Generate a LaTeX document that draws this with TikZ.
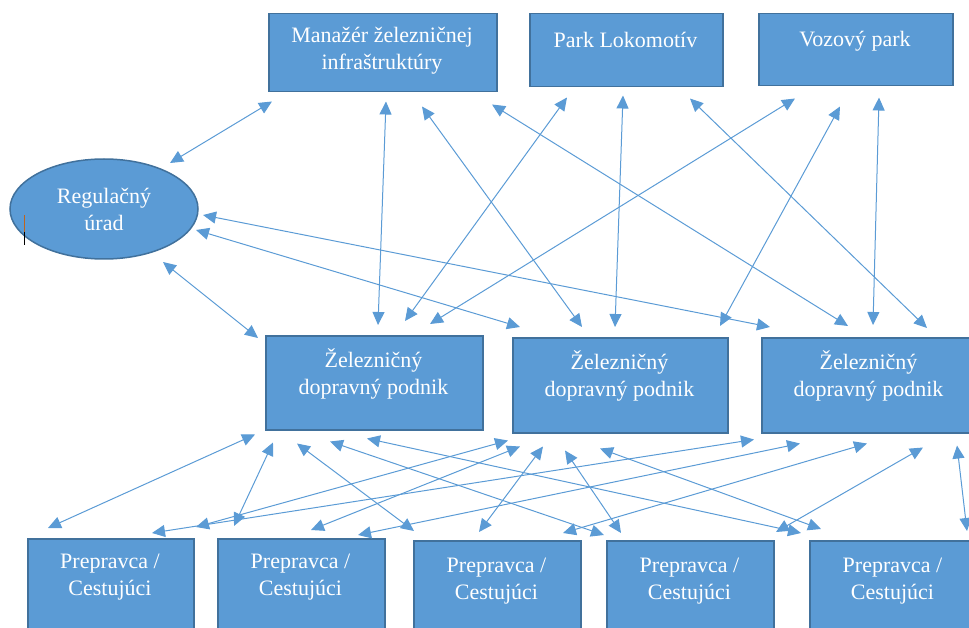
\documentclass[tikz,border=0pt]{standalone}
\usepackage{fontspec}
\setmainfont{Liberation Serif}
\usetikzlibrary{arrows.meta,shapes.geometric}
\definecolor{boxfill}{RGB}{91,155,213}
\definecolor{boxline}{RGB}{65,113,156}
\begin{document}
\begin{tikzpicture}[x=1pt,y=-1pt,
  box/.style={draw=boxline, line width=1.5pt, fill=boxfill, anchor=north west, inner sep=0pt},
  lbl/.style={text=white, anchor=base, inner sep=0pt, font=\fontsize{22}{27}\selectfont},
  arr/.style={draw=boxfill, line width=1pt, {Triangle[length=13pt,width=12pt]}-{Triangle[length=13pt,width=12pt]}}]
\useasboundingbox (0,0) rectangle (969,628);
% top row
\node[box, minimum width=228pt, minimum height=78pt] (m) at (268,13) {};
\node[box, minimum width=193pt, minimum height=73pt] (pl) at (529,13) {};
\node[box, minimum width=194pt, minimum height=72pt] (vp) at (758,13) {};
% regulator
\node[draw=boxline, line width=1.5pt, fill=boxfill, ellipse, minimum width=188pt, minimum height=100pt, inner sep=0pt] (r) at (104,209) {};
% middle row
\node[box, minimum width=217pt, minimum height=94pt] (z1) at (265,335) {};
\node[box, minimum width=215pt, minimum height=95pt] (z2) at (512,337) {};
\node[box, minimum width=215pt, minimum height=95pt] (z3) at (761,337) {};
% bottom row
\node[box, minimum width=166pt, minimum height=100pt] (p1) at (27,538) {};
\node[box, minimum width=167pt, minimum height=100pt] (p2) at (217,538) {};
\node[box, minimum width=167pt, minimum height=100pt] (p3) at (413,540) {};
\node[box, minimum width=167pt, minimum height=100pt] (p4) at (606,540) {};
\node[box, minimum width=167pt, minimum height=100pt] (p5) at (809,540) {};
% labels
\node[lbl] (mt) at (382,43) {\begin{tabular}[t]{@{}c@{}}Manažér železničnej\\infraštruktúry\end{tabular}};
\node[lbl] (plt) at (625.5,48) {Park Lokomotív};
\node[lbl] (vpt) at (855,47) {Vozový park};
\node[lbl] (rt) at (104,204) {\begin{tabular}[t]{@{}c@{}}Regulačný\\úrad\end{tabular}};
\node[lbl] (z1t) at (373.5,367) {\begin{tabular}[t]{@{}c@{}}Železničný\\dopravný podnik\end{tabular}};
\node[lbl] (z2t) at (619.5,369) {\begin{tabular}[t]{@{}c@{}}Železničný\\dopravný podnik\end{tabular}};
\node[lbl] (z3t) at (868.5,369) {\begin{tabular}[t]{@{}c@{}}Železničný\\dopravný podnik\end{tabular}};
\node[lbl] (p1t) at (110,568) {\begin{tabular}[t]{@{}c@{}}Prepravca /\\Cestujúci\end{tabular}};
\node[lbl] (p2t) at (300.5,568) {\begin{tabular}[t]{@{}c@{}}Prepravca /\\Cestujúci\end{tabular}};
\node[lbl] (p3t) at (496.5,572) {\begin{tabular}[t]{@{}c@{}}Prepravca /\\Cestujúci\end{tabular}};
\node[lbl] (p4t) at (689.5,572) {\begin{tabular}[t]{@{}c@{}}Prepravca /\\Cestujúci\end{tabular}};
\node[lbl] (p5t) at (892.5,572) {\begin{tabular}[t]{@{}c@{}}Prepravca /\\Cestujúci\end{tabular}};
% text cursor mark
\draw[color={rgb,255:red,190;green,100;blue,30}, line width=0.8pt] (24,215) -- (24,232);
\draw[black, line width=0.8pt] (24,232) -- (24,245);
% upper connectors
\draw[arr] ([shift={(4,9)}]m.south west) -- ([shift={(66,-46)}]r.center);
\draw[arr] ([shift={(118,9)}]m.south west) -- ([shift={(113,-10)}]z1.north west);
\draw[arr] ([shift={(154,14)}]m.south west) -- ([shift={(70,-10)}]z2.north west);
\draw[arr] ([shift={(224,12)}]m.south west) -- ([shift={(87,-11)}]z3.north west);
\draw[arr] ([shift={(38,10)}]pl.south west) -- ([shift={(140,-14)}]z1.north west);
\draw[arr] ([shift={(94,8)}]pl.south west) -- ([shift={(103,-10)}]z2.north west);
\draw[arr] ([shift={(161,11)}]pl.south west) -- ([shift={(166,-9)}]z3.north west);
\draw[arr] ([shift={(37,12)}]vp.south west) -- ([shift={(165,-11)}]z1.north west);
\draw[arr] ([shift={(82,20)}]vp.south west) -- ([shift={(208,-11)}]z2.north west);
\draw[arr] ([shift={(121,11)}]vp.south west) -- ([shift={(112,-12)}]z3.north west);
\draw[arr] ([shift={(99,6)}]r.center) -- ([shift={(9,-10)}]z3.north west);
\draw[arr] ([shift={(92,21)}]r.center) -- ([shift={(8,-10)}]z2.north west);
\draw[arr] ([shift={(59,53)}]r.center) -- ([shift={(-7,3)}]z1.north west);
% lower connectors
\draw[arr] ([shift={(-10,4)}]z1.south west) -- ([shift={(21,-10)}]p1.north west);
\draw[arr] ([shift={(8,12)}]z1.south west) -- ([shift={(17,-12)}]p2.north west);
\draw[arr] ([shift={(32,13)}]z1.south west) -- ([shift={(1,-9)}]p3.north west);
\draw[arr] ([shift={(65,11)}]z1.south west) -- ([shift={(-2,-5)}]p4.north west);
\draw[arr] ([shift={(102,8)}]z1.south west) -- ([shift={(-8,-7)}]p5.north west);
\draw[arr] ([shift={(-4,7)}]z2.south west) -- ([shift={(169,-11)}]p1.north west);
\draw[arr] ([shift={(8,13)}]z2.south west) -- ([shift={(94,-8)}]p2.north west);
\draw[arr] ([shift={(31,13)}]z2.south west) -- ([shift={(66,-8)}]p3.north west);
\draw[arr] ([shift={(53,17)}]z2.south west) -- ([shift={(15,-7)}]p4.north west);
\draw[arr] ([shift={(88,15)}]z2.south west) -- ([shift={(12,-11)}]p5.north west);
\draw[arr] ([shift={(-7,6)}]z3.south west) -- ([shift={(125,-5)}]p1.north west);
\draw[arr] ([shift={(39,10)}]z3.south west) -- ([shift={(141,-3)}]p2.north west);
\draw[arr] ([shift={(106,10)}]z3.south west) -- ([shift={(150,-7)}]p3.north west);
\draw[arr] ([shift={(162,14)}]z3.south west) -- ([shift={(170,-8)}]p4.north west);
\draw[arr] ([shift={(196,12)}]z3.south west) -- ([shift={(158,-9)}]p5.north west);
\end{tikzpicture}
\end{document}
